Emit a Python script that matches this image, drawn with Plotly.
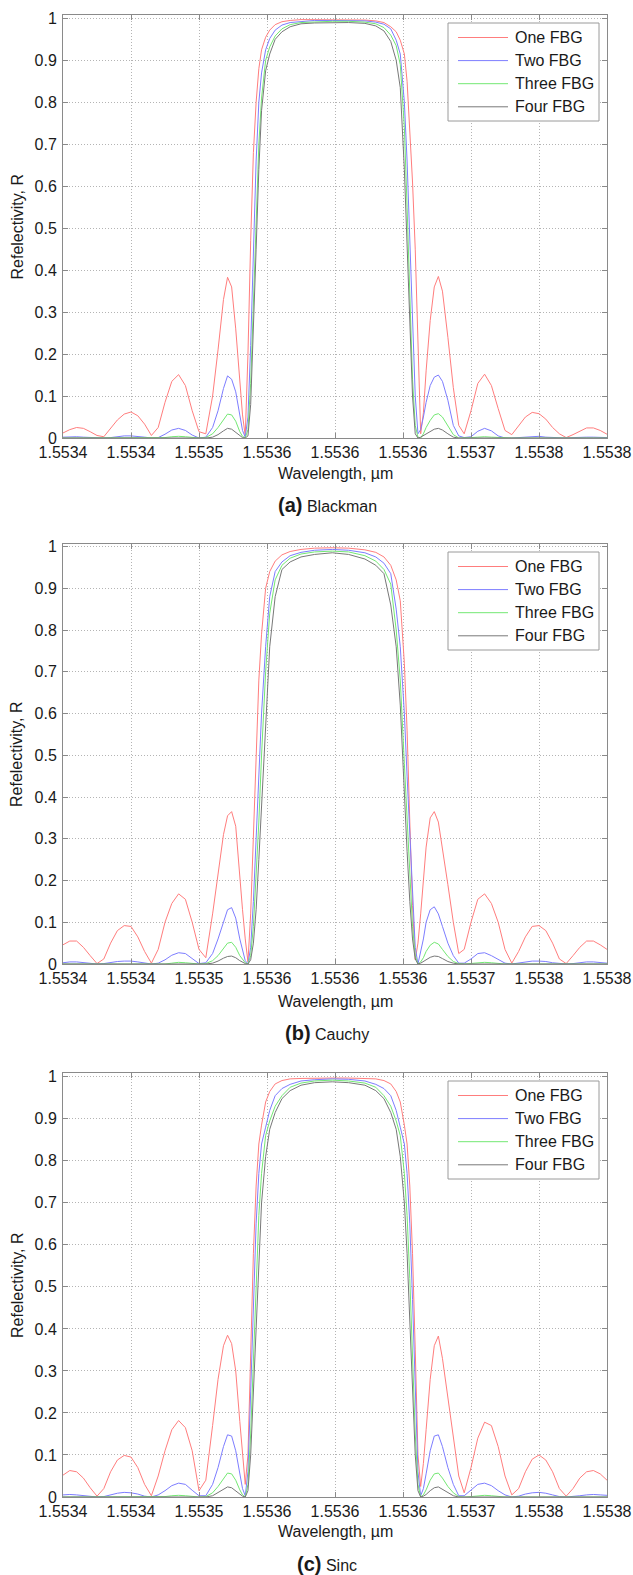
import plotly.graph_objects as go

# ---------------- data ----------------
# wavelength offset from 1.5534 um, in picometres
wavelength_offset_pm = [
    0, 5, 10, 15, 20, 25, 30, 35, 40, 45, 50, 55, 60, 65, 70, 75, 80, 85, 90, 95, 100, 105, 110,
    114, 118, 121, 124, 127, 130, 132, 134, 136, 138, 140, 142, 144, 146, 149, 152, 156, 161, 167, 175, 185, 198,
    210, 222, 230, 236, 241, 245, 248, 251, 253, 255, 257, 259, 261, 263, 265, 267, 270, 273, 276, 279, 283, 287,
    291, 295, 300, 305, 310, 315, 320, 325, 330, 335, 340, 345, 350, 355, 360, 365, 370, 375, 380, 385, 390, 395, 400]

x_tick_wavelength_um = [1.55340, 1.55345, 1.55350, 1.55355, 1.55360, 1.55365, 1.55370, 1.55375, 1.55380]
x_tick_labels = ["1.5534", "1.5534", "1.5535", "1.5536", "1.5536", "1.5536", "1.5537", "1.5538", "1.5538"]
y_tick_values = [0, 0.1, 0.2, 0.3, 0.4, 0.5, 0.6, 0.7, 0.8, 0.9, 1.0]
y_tick_labels = ["0", "0.1", "0.2", "0.3", "0.4", "0.5", "0.6", "0.7", "0.8", "0.9", "1"]
series_names = ["One FBG", "Two FBG", "Three FBG", "Four FBG"]
panel_letters = ["(a)", "(b)", "(c)"]
panel_windows = ["Blackman", "Cauchy", "Sinc"]

# ---- (a) Blackman ----
blackman_one = [
    0.012, 0.020, 0.025, 0.023, 0.015, 0.006, 0.003, 0.022, 0.043, 0.057, 0.062, 0.053, 0.033, 0.006, 0.025, 0.085, 0.135, 0.151, 0.125, 0.065, 0.015, 0.010, 0.100,
    0.210, 0.330, 0.383, 0.360, 0.260, 0.130, 0.055, 0.005, 0.200, 0.470, 0.680, 0.800, 0.880, 0.925, 0.955, 0.972, 0.985, 0.992, 0.995, 0.997, 0.997, 0.997,
    0.997, 0.996, 0.994, 0.990, 0.980, 0.968, 0.948, 0.915, 0.850, 0.740, 0.610, 0.450, 0.250, 0.010, 0.060, 0.160, 0.280, 0.360, 0.385, 0.350, 0.240, 0.120,
    0.030, 0.010, 0.065, 0.130, 0.152, 0.125, 0.070, 0.018, 0.008, 0.030, 0.050, 0.061, 0.058, 0.045, 0.025, 0.010, 0.001, 0.008, 0.017, 0.024, 0.024, 0.018, 0.009]
blackman_two = [
    0.002, 0.003, 0.003, 0.002, 0.001, 0.000, 0.000, 0.001, 0.003, 0.005, 0.005, 0.004, 0.002, 0.000, 0.001, 0.009, 0.019, 0.023, 0.018, 0.007, 0.000, 0.002, 0.025,
    0.065, 0.118, 0.148, 0.140, 0.110, 0.050, 0.018, 0.002, 0.050, 0.220, 0.450, 0.660, 0.800, 0.870, 0.925, 0.952, 0.972, 0.984, 0.990, 0.993, 0.995, 0.995,
    0.995, 0.994, 0.991, 0.986, 0.975, 0.948, 0.915, 0.800, 0.660, 0.480, 0.280, 0.100, 0.010, 0.020, 0.050, 0.085, 0.125, 0.145, 0.150, 0.135, 0.090, 0.030,
    0.005, 0.001, 0.003, 0.016, 0.023, 0.017, 0.005, 0.000, 0.000, 0.001, 0.003, 0.004, 0.004, 0.002, 0.001, 0.000, 0.000, 0.001, 0.002, 0.002, 0.002, 0.001, 0.001]
blackman_three = [
    0, 0, 0, 0, 0, 0, 0, 0, 0, 0, 0, 0, 0, 0, 0, 0.001, 0.003, 0.004, 0.003, 0.001, 0.000, 0.001, 0.010,
    0.025, 0.045, 0.057, 0.055, 0.040, 0.015, 0.004, 0.000, 0.020, 0.130, 0.320, 0.550, 0.700, 0.810, 0.900, 0.932, 0.958, 0.975, 0.985, 0.990, 0.992, 0.993,
    0.993, 0.991, 0.987, 0.978, 0.960, 0.935, 0.890, 0.740, 0.550, 0.330, 0.140, 0.030, 0.002, 0.000, 0.010, 0.025, 0.042, 0.055, 0.058, 0.050, 0.030, 0.008,
    0.000, 0.000, 0.001, 0.002, 0.003, 0.002, 0.001, 0, 0, 0, 0, 0, 0, 0, 0, 0, 0, 0, 0, 0, 0, 0, 0]
blackman_four = [
    0, 0, 0, 0, 0, 0, 0, 0, 0, 0, 0, 0, 0, 0, 0, 0, 0, 0, 0, 0, 0, 0, 0.002,
    0.008, 0.017, 0.023, 0.021, 0.014, 0.005, 0.001, 0.000, 0.005, 0.080, 0.250, 0.450, 0.640, 0.780, 0.875, 0.915, 0.950, 0.968, 0.980, 0.987, 0.989, 0.990,
    0.990, 0.988, 0.982, 0.970, 0.945, 0.900, 0.835, 0.640, 0.450, 0.250, 0.100, 0.010, 0.000, 0.002, 0.006, 0.011, 0.017, 0.021, 0.023, 0.019, 0.010, 0.002,
    0, 0, 0, 0, 0, 0, 0, 0, 0, 0, 0, 0, 0, 0, 0, 0, 0, 0, 0, 0, 0, 0, 0]

# ---- (b) Cauchy ----
cauchy_one = [
    0.046, 0.055, 0.055, 0.040, 0.020, 0.001, 0.012, 0.050, 0.080, 0.092, 0.090, 0.065, 0.030, 0.002, 0.035, 0.100, 0.145, 0.168, 0.155, 0.100, 0.035, 0.015, 0.120,
    0.220, 0.310, 0.355, 0.365, 0.330, 0.200, 0.130, 0.060, 0.005, 0.120, 0.320, 0.500, 0.680, 0.790, 0.900, 0.940, 0.965, 0.980, 0.988, 0.993, 0.996, 0.997,
    0.996, 0.992, 0.986, 0.975, 0.955, 0.920, 0.870, 0.720, 0.560, 0.340, 0.140, 0.010, 0.050, 0.120, 0.200, 0.280, 0.350, 0.365, 0.340, 0.280, 0.190, 0.100,
    0.025, 0.035, 0.100, 0.155, 0.168, 0.145, 0.100, 0.035, 0.002, 0.030, 0.065, 0.090, 0.092, 0.080, 0.050, 0.012, 0.001, 0.020, 0.040, 0.055, 0.055, 0.046, 0.035]
cauchy_two = [
    0.003, 0.005, 0.005, 0.003, 0.001, 0.000, 0.001, 0.004, 0.006, 0.007, 0.007, 0.005, 0.002, 0.000, 0.002, 0.010, 0.021, 0.027, 0.025, 0.012, 0.001, 0.003, 0.025,
    0.060, 0.100, 0.130, 0.135, 0.110, 0.060, 0.030, 0.008, 0.000, 0.040, 0.150, 0.300, 0.450, 0.600, 0.760, 0.880, 0.940, 0.963, 0.978, 0.986, 0.991, 0.993,
    0.991, 0.985, 0.975, 0.960, 0.935, 0.850, 0.760, 0.600, 0.450, 0.300, 0.150, 0.040, 0.000, 0.030, 0.060, 0.100, 0.130, 0.137, 0.120, 0.090, 0.050, 0.020,
    0.002, 0.002, 0.012, 0.025, 0.027, 0.020, 0.010, 0.002, 0.000, 0.002, 0.005, 0.007, 0.007, 0.006, 0.003, 0.001, 0.000, 0.001, 0.003, 0.005, 0.005, 0.003, 0.002]
cauchy_three = [
    0, 0, 0, 0, 0, 0, 0, 0, 0, 0, 0, 0, 0, 0, 0, 0, 0.002, 0.004, 0.003, 0.001, 0.000, 0.001, 0.008,
    0.020, 0.038, 0.050, 0.052, 0.040, 0.020, 0.010, 0.003, 0.000, 0.020, 0.090, 0.200, 0.340, 0.500, 0.700, 0.840, 0.920, 0.955, 0.972, 0.982, 0.987, 0.989,
    0.987, 0.978, 0.965, 0.945, 0.910, 0.800, 0.680, 0.480, 0.340, 0.200, 0.090, 0.020, 0.000, 0.005, 0.015, 0.030, 0.045, 0.052, 0.048, 0.035, 0.018, 0.006,
    0.001, 0.000, 0.001, 0.003, 0.004, 0.003, 0.001, 0, 0, 0, 0, 0, 0, 0, 0, 0, 0, 0, 0, 0, 0, 0, 0]
cauchy_four = [
    0, 0, 0, 0, 0, 0, 0, 0, 0, 0, 0, 0, 0, 0, 0, 0, 0, 0, 0, 0, 0, 0, 0.002,
    0.007, 0.014, 0.018, 0.019, 0.015, 0.008, 0.004, 0.001, 0.000, 0.010, 0.050, 0.130, 0.250, 0.380, 0.580, 0.760, 0.880, 0.945, 0.963, 0.975, 0.981, 0.985,
    0.981, 0.970, 0.955, 0.935, 0.860, 0.760, 0.620, 0.400, 0.270, 0.150, 0.060, 0.012, 0.000, 0.002, 0.006, 0.011, 0.016, 0.019, 0.018, 0.013, 0.006, 0.002,
    0, 0, 0, 0, 0, 0, 0, 0, 0, 0, 0, 0, 0, 0, 0, 0, 0, 0, 0, 0, 0, 0, 0]

# ---- (c) Sinc ----
sinc_one = [
    0.052, 0.063, 0.060, 0.045, 0.022, 0.002, 0.020, 0.060, 0.088, 0.099, 0.095, 0.070, 0.030, 0.003, 0.050, 0.110, 0.160, 0.182, 0.165, 0.110, 0.015, 0.040, 0.170,
    0.280, 0.360, 0.385, 0.365, 0.300, 0.180, 0.100, 0.030, 0.100, 0.350, 0.580, 0.740, 0.840, 0.885, 0.940, 0.965, 0.983, 0.991, 0.995, 0.996, 0.997, 0.997,
    0.997, 0.996, 0.995, 0.991, 0.983, 0.965, 0.940, 0.885, 0.840, 0.740, 0.580, 0.350, 0.100, 0.025, 0.080, 0.160, 0.280, 0.360, 0.383, 0.330, 0.240, 0.140,
    0.050, 0.010, 0.070, 0.140, 0.178, 0.170, 0.120, 0.050, 0.005, 0.020, 0.060, 0.090, 0.100, 0.088, 0.060, 0.020, 0.002, 0.020, 0.045, 0.060, 0.063, 0.055, 0.040]
sinc_two = [
    0.005, 0.006, 0.005, 0.003, 0.001, 0.000, 0.001, 0.005, 0.009, 0.011, 0.010, 0.007, 0.002, 0.000, 0.005, 0.015, 0.027, 0.033, 0.030, 0.016, 0.003, 0.003, 0.030,
    0.070, 0.120, 0.148, 0.145, 0.110, 0.055, 0.020, 0.003, 0.060, 0.250, 0.470, 0.650, 0.770, 0.840, 0.880, 0.920, 0.955, 0.972, 0.982, 0.990, 0.993, 0.995,
    0.994, 0.990, 0.982, 0.972, 0.955, 0.920, 0.880, 0.840, 0.770, 0.650, 0.470, 0.250, 0.060, 0.003, 0.020, 0.055, 0.110, 0.145, 0.148, 0.120, 0.070, 0.030,
    0.003, 0.003, 0.016, 0.030, 0.033, 0.027, 0.015, 0.005, 0.000, 0.002, 0.007, 0.010, 0.011, 0.009, 0.005, 0.001, 0.000, 0.001, 0.003, 0.005, 0.006, 0.005, 0.004]
sinc_three = [
    0, 0, 0, 0, 0, 0, 0, 0, 0, 0, 0, 0, 0, 0, 0, 0.001, 0.003, 0.004, 0.003, 0.001, 0.000, 0.001, 0.010,
    0.025, 0.045, 0.057, 0.055, 0.040, 0.017, 0.005, 0.000, 0.030, 0.150, 0.330, 0.520, 0.670, 0.770, 0.860, 0.895, 0.930, 0.955, 0.975, 0.985, 0.990, 0.992,
    0.990, 0.985, 0.975, 0.955, 0.930, 0.895, 0.860, 0.770, 0.670, 0.520, 0.330, 0.150, 0.030, 0.000, 0.005, 0.017, 0.040, 0.055, 0.057, 0.045, 0.025, 0.010,
    0.001, 0.000, 0.001, 0.003, 0.004, 0.003, 0.001, 0, 0, 0, 0, 0, 0, 0, 0, 0, 0, 0, 0, 0, 0, 0, 0]
sinc_four = [
    0, 0, 0, 0, 0, 0, 0, 0, 0, 0, 0, 0, 0, 0, 0, 0, 0, 0, 0, 0, 0, 0, 0.003,
    0.010, 0.018, 0.024, 0.022, 0.015, 0.006, 0.002, 0.000, 0.015, 0.100, 0.250, 0.430, 0.580, 0.700, 0.810, 0.875, 0.915, 0.948, 0.967, 0.980, 0.986, 0.988,
    0.986, 0.980, 0.967, 0.948, 0.915, 0.875, 0.810, 0.700, 0.580, 0.430, 0.250, 0.100, 0.015, 0.000, 0.002, 0.006, 0.015, 0.022, 0.024, 0.018, 0.010, 0.003,
    0, 0, 0, 0, 0, 0, 0, 0, 0, 0, 0, 0, 0, 0, 0, 0, 0, 0, 0, 0, 0, 0, 0]

# ---------------- figure ----------------
wavelength_um = [1.5534 + p * 1e-6 for p in wavelength_offset_pm]
panels_data = [
    [blackman_one, blackman_two, blackman_three, blackman_four],
    [cauchy_one, cauchy_two, cauchy_three, cauchy_four],
    [sinc_one, sinc_two, sinc_three, sinc_four],
]
for grp in panels_data:
    for s in grp:
        if len(s) != len(wavelength_um):
            raise ValueError("length mismatch %d" % len(s))

W, H = 633, 1575
PLOT_LEFT, PLOT_RIGHT = 63, 607
# (top px, bottom px, y max, x-title y px, caption y px)
panel_frames = [
    (15, 438, 1.008, 473, 505),
    (544, 964, 1.006, 1001, 1033),
    (1073, 1497, 1.009, 1531, 1564),
]
line_colors = ["rgb(255,125,125)", "rgb(125,125,255)", "rgb(115,232,115)", "rgb(120,120,120)"]
FONT = "Liberation Sans, Arial, Helvetica, sans-serif"
frame_col = "#8a8a8a"
grid_col = "#b4b4b4"


def fx(x):
    return x / W


def fy(y):
    return 1 - y / H


fig = go.Figure()
annotations = []
shapes = []
layout_axes = {}

for i, (top, bottom, ymax, xt_y, cap_y) in enumerate(panel_frames):
    sfx = "" if i == 0 else str(i + 1)
    for name, values, color in zip(series_names, panels_data[i], line_colors):
        fig.add_trace(go.Scatter(
            x=wavelength_um, y=values, mode="lines", name=name,
            line=dict(color=color, width=1),
            xaxis="x" + sfx, yaxis="y" + sfx, showlegend=False))

    common = dict(showline=True, linecolor=frame_col, linewidth=1, mirror="ticks",
                  ticks="inside", ticklen=5, tickcolor=frame_col, tickwidth=1,
                  showgrid=True, gridcolor=grid_col, griddash="1px,2px", gridwidth=1,
                  zeroline=False, automargin=False,
                  tickfont=dict(family=FONT, size=16, color="#1a1a1a"))
    layout_axes["xaxis" + sfx] = dict(
        common, domain=[fx(PLOT_LEFT), fx(PLOT_RIGHT)], anchor="y" + sfx,
        range=[1.5534, 1.5538], tickmode="array",
        tickvals=x_tick_wavelength_um, ticktext=x_tick_labels)
    layout_axes["yaxis" + sfx] = dict(
        common, domain=[fy(bottom), fy(top)], anchor="x" + sfx,
        range=[0, ymax], tickmode="array",
        tickvals=y_tick_values, ticktext=y_tick_labels, ticklabelstandoff=2)

    # axis titles
    annotations.append(dict(text="Wavelength, µm", xref="paper", yref="paper",
                            x=fx((PLOT_LEFT + PLOT_RIGHT) / 2), y=fy(xt_y),
                            xanchor="center", yanchor="middle", showarrow=False,
                            font=dict(family=FONT, size=16, color="#1a1a1a")))
    annotations.append(dict(text="Refelectivity, R", xref="paper", yref="paper",
                            x=fx(17), y=fy((top + bottom) / 2), textangle=-90,
                            xanchor="center", yanchor="middle", showarrow=False,
                            font=dict(family=FONT, size=16, color="#1a1a1a")))
    # caption
    annotations.append(dict(
        text="<span style='font-size:20px'><b>%s</b></span> %s" % (panel_letters[i], panel_windows[i]),
        xref="paper", yref="paper", x=fx(327), y=fy(cap_y),
        xanchor="center", yanchor="middle", showarrow=False,
        font=dict(family=FONT, size=16, color="#1a1a1a")))

    # legend box
    box_top = top + 8
    shapes.append(dict(type="rect", xref="paper", yref="paper",
                       x0=fx(448), x1=fx(599), y0=fy(box_top), y1=fy(box_top + 98),
                       line=dict(color="#9a9a9a", width=1), fillcolor="white", layer="above"))
    for k, (name, color) in enumerate(zip(series_names, line_colors)):
        ey = box_top + 14.5 + 23.1 * k
        shapes.append(dict(type="line", xref="paper", yref="paper",
                           x0=fx(458), x1=fx(508), y0=fy(ey), y1=fy(ey),
                           line=dict(color=color, width=1), layer="above"))
        annotations.append(dict(text=name, xref="paper", yref="paper",
                                x=fx(513), y=fy(ey), xanchor="left", yanchor="middle",
                                showarrow=False,
                                font=dict(family=FONT, size=16, color="#1a1a1a")))

fig.update_layout(
    width=W, height=H, margin=dict(l=0, r=0, t=0, b=0, autoexpand=False),
    paper_bgcolor="white", plot_bgcolor="white", showlegend=False,
    annotations=annotations, shapes=shapes, **layout_axes)

fig.write_html(
    "out.html",
    config={"displayModeBar": False, "staticPlot": True},
    post_script="document.body.style.margin='0';document.body.style.overflow='hidden';")
